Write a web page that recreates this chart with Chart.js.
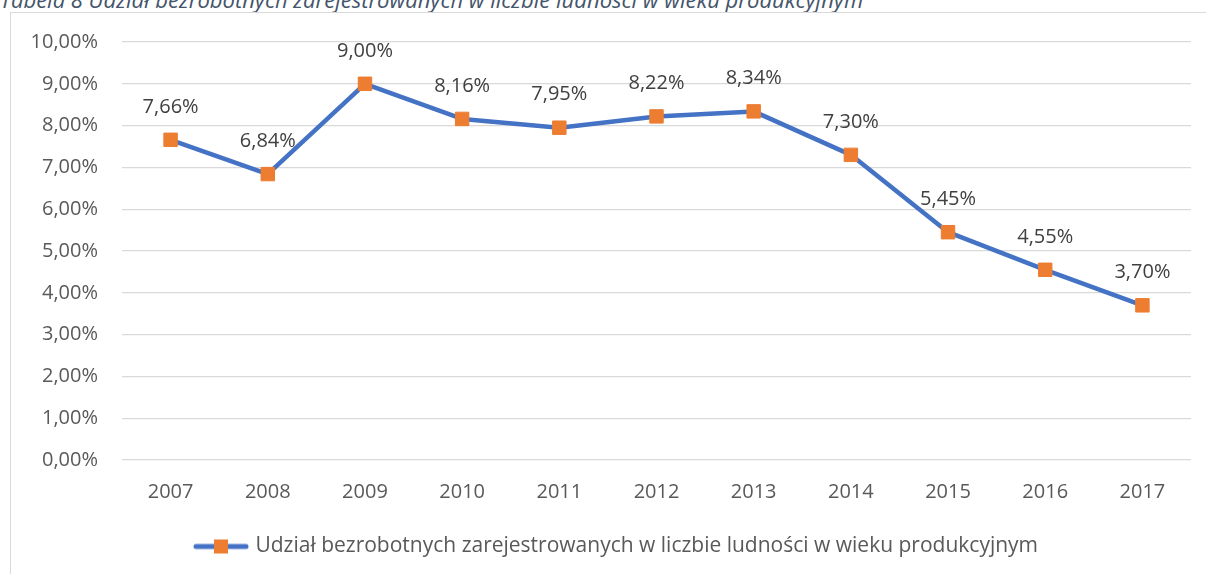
<!DOCTYPE html>
<html lang="pl">
<head>
<meta charset="utf-8">
<title>Udział bezrobotnych zarejestrowanych</title>
<script src="https://cdn.jsdelivr.net/npm/chart.js@4.4.1/dist/chart.umd.min.js"></script>
<style>
  html, body { margin: 0; padding: 0; background: #fff; overflow: hidden; width: 1206px; height: 574px; }
  #podpis { position: absolute; left: 0; top: -13px; font: italic 22px "Open Sans", sans-serif; color: #44546A; white-space: nowrap; line-height: 24px; }
  #ramka { position: absolute; left: 10px; top: 12px; width: 1400px; height: 800px; border: 1px solid #D9D9D9; }
  #wykres { position: absolute; left: 0; top: 0; }
</style>
</head>
<body>
<div id="podpis">Tabela 8 Udział bezrobotnych zarejestrowanych w liczbie ludności w wieku produkcyjnym</div>
<div id="ramka"></div>
<canvas id="wykres" width="1236" height="574"></canvas>
<script>
const lata = ['2007', '2008', '2009', '2010', '2011', '2012', '2013', '2014', '2015', '2016', '2017'];
const udzial = [7.66, 6.84, 9.00, 8.16, 7.95, 8.22, 8.34, 7.30, 5.45, 4.55, 3.70];
const nazwaSerii = 'Udział bezrobotnych zarejestrowanych w liczbie ludności w wieku produkcyjnym';
const osY = { min: 0, max: 10, krok: 1 };

const czcionka = '"Open Sans", Lato, sans-serif';

// zapis procentu z przecinkiem, jak w Excelu
function procent(v) {
  return v.toFixed(2).replace('.', ',') + '%';
}

// znacznik legendy: linia z kwadratem w srodku
const znacznik = document.createElement('canvas');
znacznik.width = 56;
znacznik.height = 16;
const z = znacznik.getContext('2d');
z.strokeStyle = '#4472C4';
z.lineWidth = 5;
z.lineCap = 'round';
z.beginPath();
z.moveTo(3, 8);
z.lineTo(53, 8);
z.stroke();
z.fillStyle = '#ED7D31';
z.fillRect(21, 1, 14, 14);

// etykiety danych nad punktami
const etykiety = {
  id: 'etykiety',
  afterDatasetsDraw(chart) {
    const ctx = chart.ctx;
    const meta = chart.getDatasetMeta(0);
    ctx.save();
    ctx.font = '20px ' + czcionka;
    ctx.fillStyle = '#404040';
    ctx.textAlign = 'center';
    ctx.textBaseline = 'middle';
    meta.data.forEach((pkt, i) => {
      ctx.fillText(procent(chart.data.datasets[0].data[i]), pkt.x, pkt.y - 33);
    });
    ctx.restore();
  }
};

// Excel srodkuje legende troche dalej w prawo
const przesunLegende = {
  id: 'przesunLegende',
  afterLayout(chart) {
    chart.legend.left += 22;
    chart.legend.right += 22;
  }
};

const wykres = new Chart(document.getElementById('wykres'), {
  type: 'line',
  data: {
    labels: lata,
    datasets: [{
      label: nazwaSerii,
      data: udzial,
      borderColor: '#4472C4',
      borderWidth: 4.5,
      borderCapStyle: 'round',
      borderJoinStyle: 'round',
      tension: 0,
      pointStyle: 'rect',
      pointRadius: 9.5,
      pointBackgroundColor: '#ED7D31',
      pointBorderColor: '#ED7D31',
      pointBorderWidth: 1,
    }]
  },
  options: {
    responsive: false,
    animation: false,
    devicePixelRatio: 1,
    layout: {
      padding: { top: 42, right: 45, bottom: 7, left: 0 }
    },
    scales: {
      x: {
        offset: true,
        grid: { display: false, drawTicks: false },
        border: { display: false },
        ticks: { color: '#595959', font: { family: czcionka, size: 20 }, padding: 20, maxRotation: 0 },
        afterFit: s => { s.height = 68; }
      },
      y: {
        min: osY.min,
        max: osY.max,
        grid: { color: '#D9D9D9', lineWidth: 1.3, drawTicks: false },
        border: { display: false },
        ticks: {
          stepSize: osY.krok,
          color: '#595959',
          font: { family: czcionka, size: 20 },
          padding: 24,
          callback: v => procent(v)
        },
        afterFit: s => { s.width = 122; }
      }
    },
    plugins: {
      legend: {
        position: 'bottom',
        labels: {
          usePointStyle: true,
          pointStyle: znacznik,
          pointStyleWidth: 48,
          padding: 8,
          color: '#595959',
          font: { family: czcionka, size: 21 }
        }
      },
      tooltip: { enabled: false }
    }
  },
  plugins: [etykiety, przesunLegende]
});
</script>
</body>
</html>
